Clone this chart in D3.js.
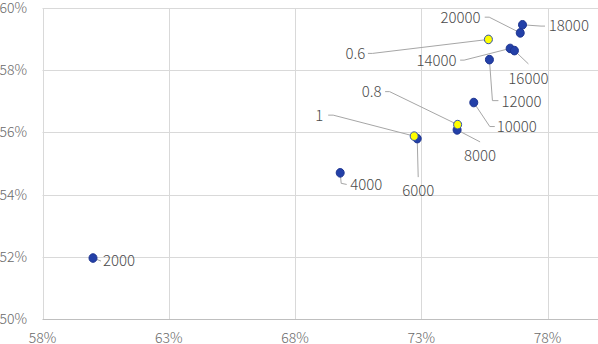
<!DOCTYPE html>
<html>
<head>
<meta charset="utf-8">
<script src="https://cdn.jsdelivr.net/npm/d3@7"></script>
<style>
  body { margin: 0; background: #fff; }
  svg { display: block; font-family: "Noto Sans CJK JP", "Noto Sans", sans-serif; }
</style>
</head>
<body>
<script>
// blue series (labels = sizes)
var blueLabels = ["2000", "4000", "6000", "8000", "10000", "12000", "14000", "16000", "18000", "20000"];
var blueX = [0.6000, 0.6979, 0.7284, 0.7442, 0.7508, 0.7570, 0.7652, 0.7669, 0.7701, 0.7692];
var blueY = [0.5196, 0.5470, 0.5580, 0.5608, 0.5696, 0.5834, 0.5870, 0.5863, 0.5946, 0.5920];

// yellow series
var yellowLabels = ["0.6", "0.8", "1"];
var yellowX = [0.7566, 0.7444, 0.7272];
var yellowY = [0.5899, 0.5625, 0.5588];

// axis ticks
var xTicks = [0.58, 0.63, 0.68, 0.73, 0.78];
var yTicks = [0.50, 0.52, 0.54, 0.56, 0.58, 0.60];

// label placement relative to the marker: text offset, anchor, leader path points
var blueLayout = [
  { dx: 10, dy: 3, a: "start", path: [[8, 3]] },
  { dx: 10, dy: 11.6, a: "start", path: [[1, 10.5], [6.5, 11.6]] },
  { dx: 1, dy: 51.5, a: "middle", path: [[1, 38.5]] },
  { dx: 23, dy: 26, a: "middle", path: [[23, 12]] },
  { dx: 23, dy: 24, a: "start", path: [[16, 24], [21, 24]] },
  { dx: 12, dy: 42, a: "start", path: [[3, 41], [9, 41]] },
  { dx: -53.6, dy: 11.7, a: "end", path: [[-46, 11.7], [-50, 11.7]] },
  { dx: 14, dy: 27.5, a: "middle", path: [[14, 13.3]] },
  { dx: 26.3, dy: 1.3, a: "start", path: [[18.5, 1.3], [22.5, 1.3]] },
  { dx: -39.6, dy: -15.7, a: "end", path: [[-31, -15.7], [-35.5, -15.7]] }
];
var yellowLayout = [
  { dx: -123, dy: 14, a: "end", path: [[-116, 14], [-120.5, 14]] },
  { dx: -76, dy: -33, a: "end", path: [[-68, -33], [-72.5, -33]] },
  { dx: -91, dy: -21, a: "end", path: [[-81, -21], [-86, -21]] }
];

var W = 598, H = 344;
var x = d3.scaleLinear().domain([0.58, 0.80]).range([42.5, 598]);
var y = d3.scaleLinear().domain([0.50, 0.60]).range([319, 8]);
var pct = d3.format(".0%");

var svg = d3.select("body").append("svg")
  .attr("width", W)
  .attr("height", H);

// gridlines
svg.append("g").selectAll("line")
  .data(yTicks.slice(1))
  .enter().append("line")
  .attr("x1", x(0.58)).attr("x2", W)
  .attr("y1", function(d) { return Math.round(y(d)) + 0.5; })
  .attr("y2", function(d) { return Math.round(y(d)) + 0.5; })
  .attr("stroke", "#d9d9d9");

svg.append("g").selectAll("line")
  .data(xTicks)
  .enter().append("line")
  .attr("x1", function(d) { return Math.round(x(d)) + 0.5; })
  .attr("x2", function(d) { return Math.round(x(d)) + 0.5; })
  .attr("y1", y(0.60)).attr("y2", y(0.50))
  .attr("stroke", "#d9d9d9");

// x axis line
svg.append("line")
  .attr("x1", x(0.58)).attr("x2", W)
  .attr("y1", Math.round(y(0.50)) + 0.5).attr("y2", Math.round(y(0.50)) + 0.5)
  .attr("stroke", "#bfbfbf");

// tick labels
svg.append("g").selectAll("text")
  .data(yTicks)
  .enter().append("text")
  .attr("x", 27)
  .attr("y", function(d) { return y(d); })
  .attr("dy", "0.35em")
  .attr("text-anchor", "end")
  .attr("font-size", 14)
  .attr("font-weight", 300)
  .attr("fill", "#6a6a6a")
  .text(pct);

svg.append("g").selectAll("text")
  .data(xTicks)
  .enter().append("text")
  .attr("x", function(d) { return x(d); })
  .attr("y", 338)
  .attr("dy", "0.35em")
  .attr("text-anchor", "middle")
  .attr("font-size", 14)
  .attr("font-weight", 300)
  .attr("fill", "#6a6a6a")
  .text(pct);

function drawSeries(labels, xs, ys, layout, fill, stroke) {
  var pts = labels.map(function(l, i) {
    return { label: l, px: x(xs[i]), py: y(ys[i]), lay: layout[i] };
  });

  var g = svg.append("g");
  g.selectAll("path")
    .data(pts)
    .enter().append("path")
    .attr("fill", "none")
    .attr("stroke", "#a6a6a6")
    .attr("stroke-width", 1)
    .attr("d", function(d) {
      var line = [[d.px, d.py]].concat(d.lay.path.map(function(p) {
        return [d.px + p[0], d.py + p[1]];
      }));
      return d3.line()(line);
    });

  return { g: g, pts: pts, fill: fill, stroke: stroke };
}

function drawMarks(s) {
  s.g.selectAll("ellipse")
    .data(s.pts)
    .enter().append("ellipse")
    .attr("cx", function(d) { return d.px; })
    .attr("cy", function(d) { return d.py; })
    .attr("rx", 4)
    .attr("ry", 4.3)
    .attr("fill", s.fill)
    .attr("stroke", s.stroke)
    .attr("stroke-width", 1);

  s.g.selectAll("text")
    .data(s.pts)
    .enter().append("text")
    .attr("x", function(d) { return d.px + d.lay.dx; })
    .attr("y", function(d) { return d.py + d.lay.dy; })
    .attr("dy", "0.36em")
    .attr("text-anchor", function(d) { return d.lay.a; })
    .attr("font-size", 15)
    .attr("font-weight", 300)
    .attr("fill", "#4a4a4a")
    .text(function(d) { return d.label; });
}

var blue = drawSeries(blueLabels, blueX, blueY, blueLayout, "#2340a8", "#1c3390");
var yellow = drawSeries(yellowLabels, yellowX, yellowY, yellowLayout, "#ffff00", "#3050b0");
drawMarks(blue);
drawMarks(yellow);
</script>
</body>
</html>
